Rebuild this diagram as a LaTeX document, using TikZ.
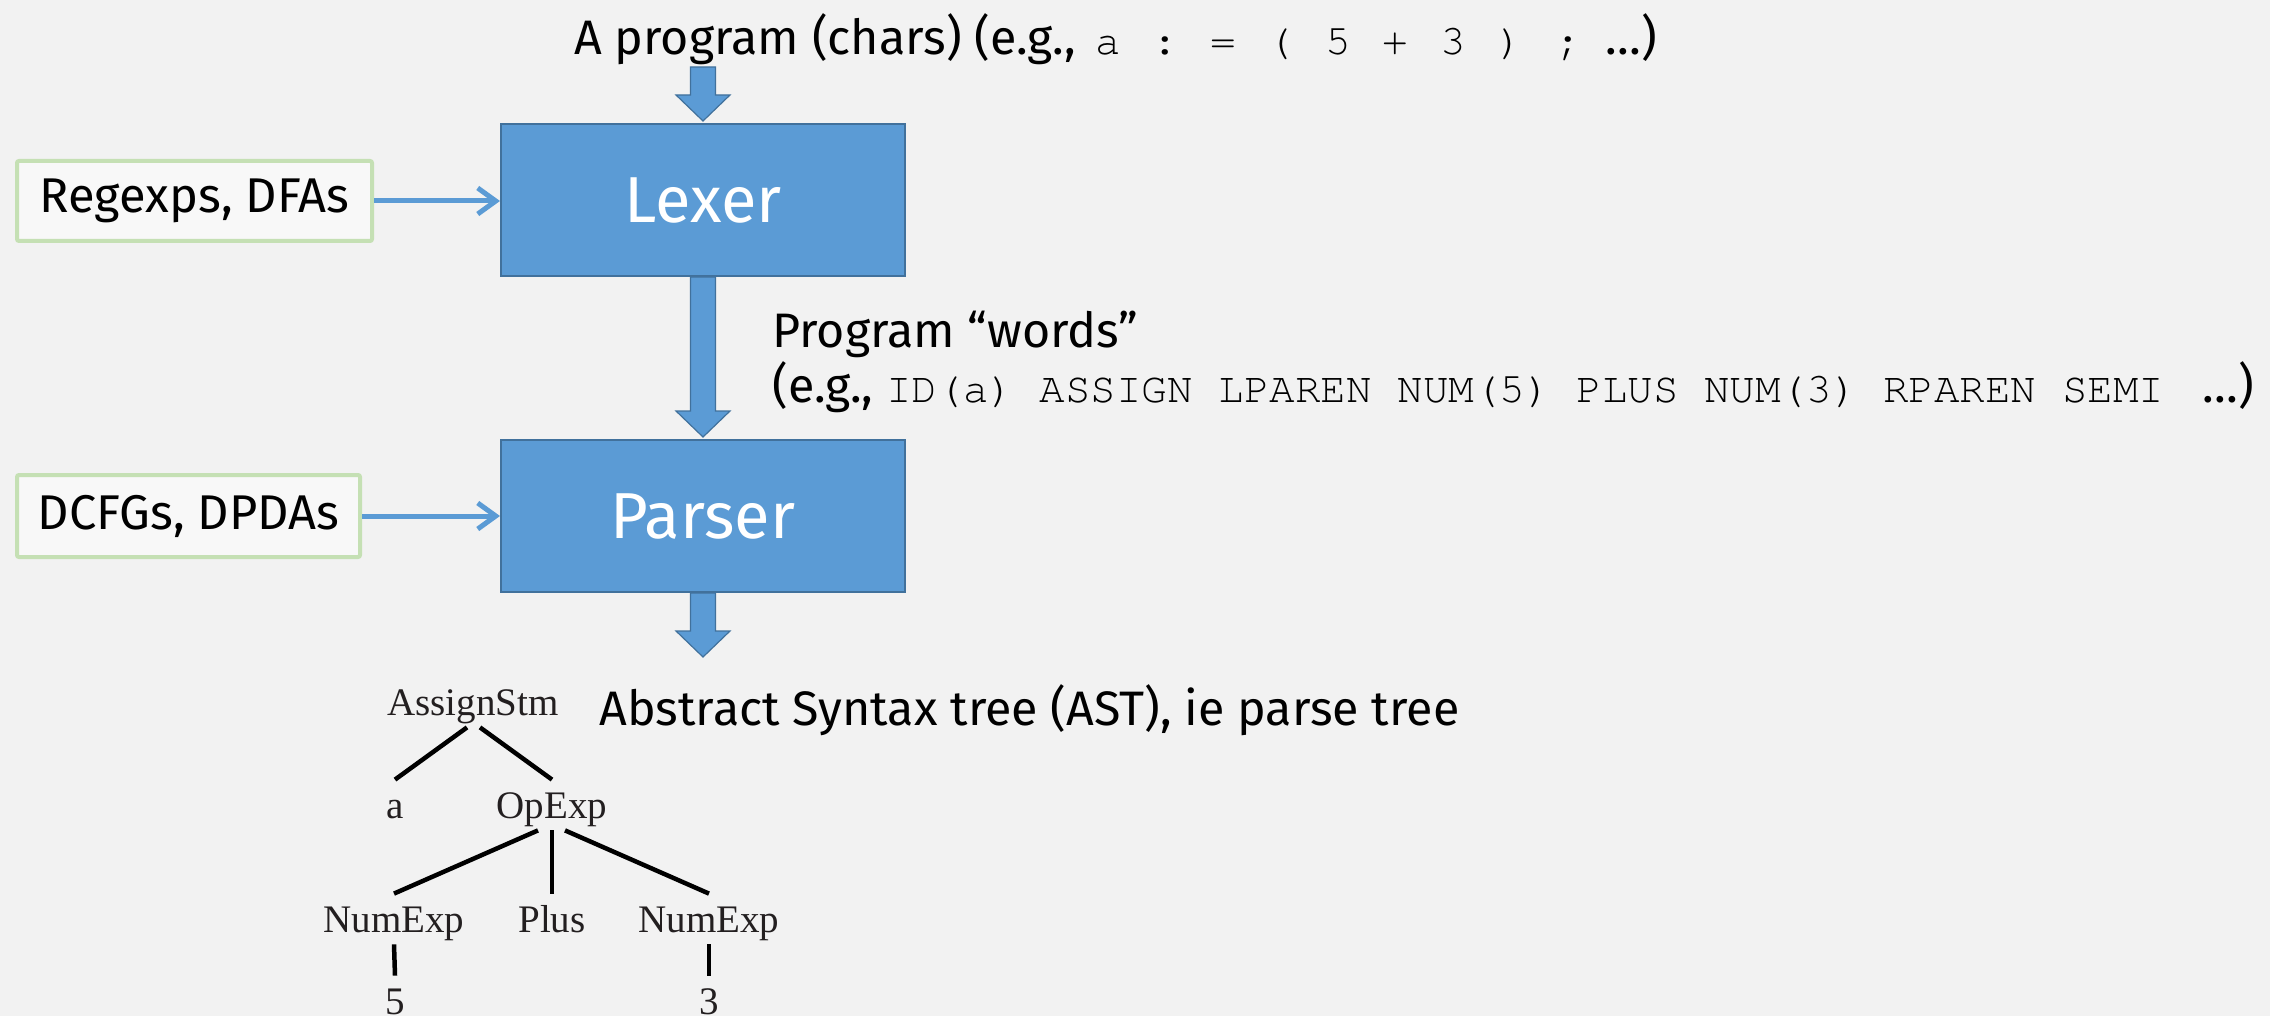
\documentclass[tikz,border=0pt]{standalone}
\usepackage{fontspec}
\setmainfont{Fira Sans}
\setmonofont{TeX Gyre Cursor}
\newfontfamily\treefont{Liberation Serif}
\usetikzlibrary{arrows.meta,calc}

\definecolor{pagebg}{HTML}{F2F2F2}
\definecolor{blockfill}{HTML}{5B9BD5}
\definecolor{blockline}{HTML}{41719C}
\definecolor{srcline}{HTML}{C5E0B4}
\definecolor{srcfill}{HTML}{F8F8F8}
\definecolor{treeink}{HTML}{231F20}

\newcommand\codesize{\ttfamily\fontsize{21.3}{25}\selectfont}
% one fixed-width slot per character of the sample source text
\newcommand\srctok[1]{\makebox[28.75pt][l]{\codesize #1}}

% wide downward block arrow from #1 to the tip #2
\newcommand\blockdown[2]{%
  \path[blockarrow] let \p1=#1, \p2=#2 in
    (\x1-6.25pt,\y1) -- (\x1+6.25pt,\y1) -- (\x1+6.25pt,\y2+13pt)
    -- (\x1+13.5pt,\y2+13pt) -- (\x1,\y2) -- (\x1-13.5pt,\y2+13pt)
    -- (\x1-6.25pt,\y2+13pt) -- cycle;}

\begin{document}
\begin{tikzpicture}[x=0.5pt,y=-0.5pt,
  stage/.style={draw=blockline, fill=blockfill, line width=1pt, text=white,
    font=\fontsize{32.5}{38}\selectfont, minimum width=202pt, minimum height=76pt,
    inner sep=0pt},
  source/.style={draw=srcline, fill=srcfill, line width=2pt, rounded corners=1pt,
    font=\fontsize{24.4}{29}\selectfont, inner sep=0pt},
  feed/.style={draw=blockfill, line width=2.5pt,
    -{Straight Barb[length=9pt,width=13pt,line width=2.5pt]}},
  blockarrow/.style={fill=blockfill, draw=blockline, line width=0.6pt},
  caption/.style={anchor=base west, inner sep=0pt, font=\fontsize{24.2}{29}\selectfont},
  tnode/.style={anchor=base, inner sep=0pt, text=treeink, text height=19pt,
    text depth=6pt, font=\treefont\fontsize{19.5}{23}\selectfont},
  tedge/.style={draw=black, line width=2.25pt},
]
\useasboundingbox (0,0) rectangle (2270,1016);
\fill[pagebg] (0,0) rectangle (2270,1016);

% pipeline stages
\node[stage] (lexer) at (703,200) {Lexer};
\node[stage] (parser) at (703,516) {Parser};

% formalisms feeding each stage
\node[source, minimum width=177.5pt, minimum height=40pt] (regex) at (194.5,201) {Regexps, DFAs};
\node[source, minimum width=171.5pt, minimum height=41pt] (cfg) at (188.5,516) {DCFGs, DPDAs};
\draw[feed] (regex.east) -- (regex.east -| lexer.west);
\draw[feed] (cfg.east) -- (cfg.east -| parser.west);

% input text
\node[caption] (chars) at (574,55) {A program (chars) (e.g.,\hspace{3.5pt} \srctok{a}\srctok{:}\srctok{=}\srctok{(}\srctok{5}\srctok{+}\srctok{3}\srctok{)}{\codesize;}\hspace{6pt} …)};
\coordinate (intop) at (703,67);
\coordinate (asttip) at (703,657);

% data flowing between stages
\blockdown{(intop)}{($(lexer.north)+(0,-2)$)}
\blockdown{(lexer.south)}{($(parser.north)+(0,-2)$)}
\blockdown{(parser.south)}{(asttip)}

\node[caption] (words) at (772,347) {Program “words”};
\node[caption] (tokens) at (772,402) {(e.g., {\codesize ID(a) ASSIGN LPAREN NUM(5) PLUS NUM(3) RPAREN SEMI\ } …)};
\node[caption] (astlabel) at (599,725) {Abstract Syntax tree (AST), ie parse tree};

% the abstract syntax tree of a := (5 + 3);
\node[tnode] (assign) at (473,715) {AssignStm};
\node[tnode] (ida) at (395,818) {a};
\node[tnode] (opexp) at (552,818) {OpExp};
\node[tnode] (numl) at (394,932) {NumExp};
\node[tnode] (plus) at (552,932) {Plus};
\node[tnode] (numr) at (709,932) {NumExp};
\node[tnode] (five) at (395,1014) {5};
\node[tnode] (three) at (709,1014) {3};

\draw[tedge] ([xshift=-3pt]assign.south) -- (ida.north);
\draw[tedge] ([xshift=3.5pt]assign.south) -- (opexp.north);
\draw[tedge] ([xshift=-7pt]opexp.south) -- (numl.north);
\draw[tedge] (opexp.south) -- (plus.north);
\draw[tedge] ([xshift=6.5pt]opexp.south) -- (numr.north);
\draw[tedge] (numl.south) -- (five.north);
\draw[tedge] (numr.south) -- (three.north);
\end{tikzpicture}
\end{document}
